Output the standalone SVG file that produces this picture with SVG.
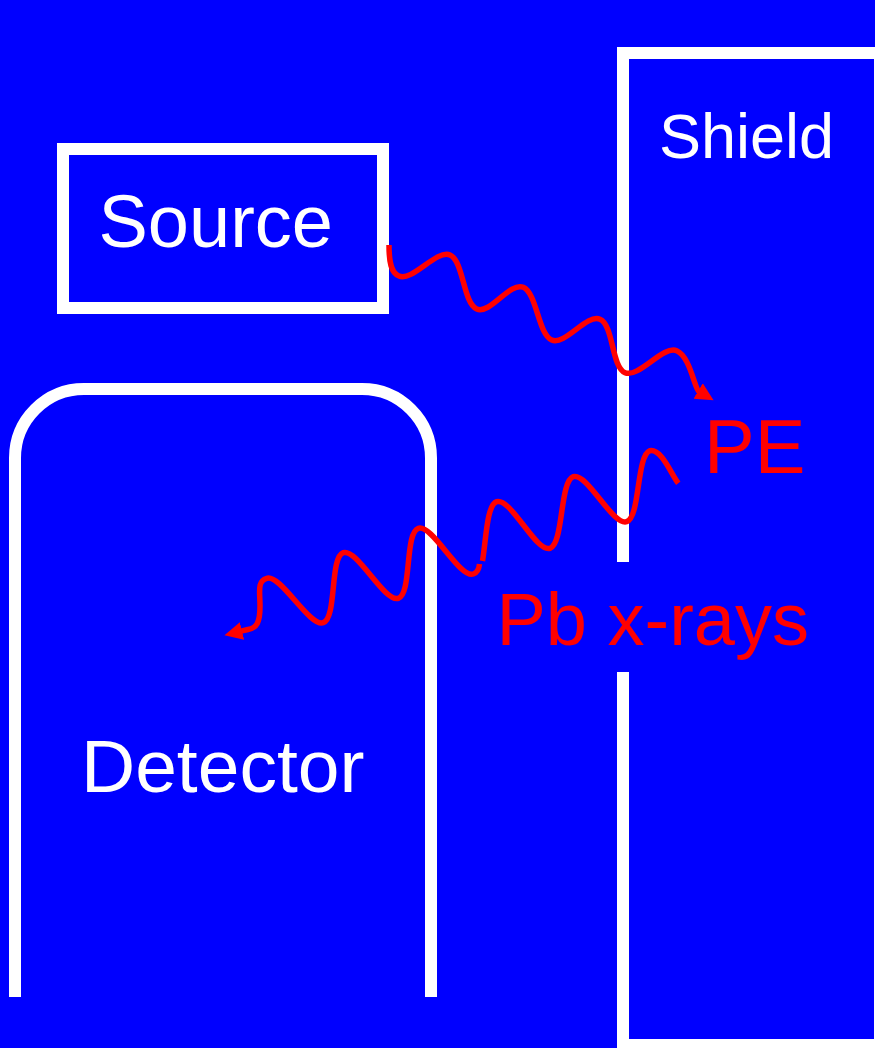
<svg xmlns="http://www.w3.org/2000/svg" width="875" height="1048" viewBox="0 0 875 1048">
  <style>
    .outline { fill: none; stroke: #FFFFFF; stroke-width: 12; }
    .lbl { font-family: "Liberation Sans", Arial, sans-serif; fill: #FFFFFF; }
    .red { font-family: "Liberation Sans", Arial, sans-serif; fill: #FF0000; }
    .wave { fill: none; stroke: #FF0000; stroke-width: 5.5; stroke-linejoin: round; }
  </style>
  <defs>
    <marker id="arrow" markerUnits="userSpaceOnUse" markerWidth="22" markerHeight="22" refX="1" refY="9" orient="auto">
      <path d="M0,0 L18,9 L0,18 Z" fill="#FF0000"/>
    </marker>
  </defs>
  <rect x="0" y="0" width="875" height="1048" fill="#0000FF"/>

  <g id="shield">
    <path class="outline" d="M623,562 V53 H880 V1045 H623 V672"/>
    <text class="lbl" x="659" y="158" font-size="63">Shield</text>
  </g>

  <g id="source">
    <rect class="outline" x="63" y="149" width="320" height="159"/>
    <text class="lbl" x="98.5" y="247" font-size="74">Source</text>
  </g>

  <g id="detector">
    <path class="outline" d="M15,997 V458 A69,69 0 0 1 84,389 H362 A69,69 0 0 1 431,458 V997"/>
    <text class="lbl" x="81" y="792" font-size="75">Detector</text>
  </g>

  <g id="pe">
    <text class="red" x="704" y="473" font-size="76">PE</text>
  </g>

  <g id="pbxrays">
    <text class="red" x="496.5" y="645" font-size="74">Pb x-rays</text>
  </g>

  <g id="connectors">
    <path class="wave" marker-end="url(#arrow)" d="M389,245 C389,262 391,273 399,276 C412.5,281.8 436.5,249.2 450,255 C463.5,260.8 463.2,303.2 476.7,309 C490.2,314.8 509.8,281.5 523.3,287.3 C536.8,293.1 538.2,334.2 551.7,340 C565.2,345.8 586.5,313.5 600,319.3 C613.5,325.1 611.5,366.9 625,372.7 C638.5,378.5 663.2,344.9 676.7,350.7 C690.2,356.5 694.5,388.8 699,391.5"/>
    <path class="wave" d="M678.3,483.3 C671,474 662,449 650,450.7 C636.3,455.4 640.4,517 626.7,521.7 C613,526.4 587,472 573.3,476.7 C559.6,481.4 563.7,543.6 550,548.3 C536.3,553 510.4,497 496.7,501.7 C486.8,505.1 486.2,538.6 482.5,561"/>
    <path class="wave" marker-end="url(#arrow)" d="M479.5,564 C479,569 477.3,572.6 473.3,574 C459.6,578.7 432,523.6 418.3,528.3 C404.6,533 412,593.6 398.3,598.3 C384.6,603 357,548 343.3,552.7 C329.6,557.4 337,618 323.3,622.7 C309.6,627.4 280.4,573.6 266.7,578.3 C257,581 260,592 260,606 C260,622 257,628 248,629.5 L241,631.2"/>
  </g>
</svg>
